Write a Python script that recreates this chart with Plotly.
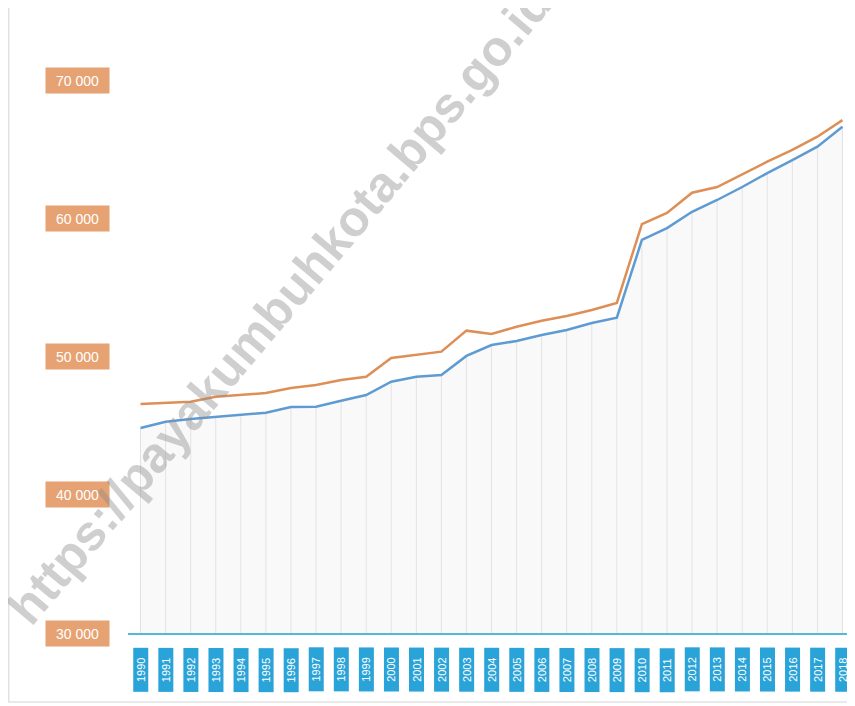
import plotly.graph_objects as go

# data
years = list(range(1990, 2019))
series_upper = [46560, 46660, 46730, 47090, 47220, 47360, 47720, 47940, 48300, 48540,
                49890, 50110, 50350, 51870, 51630, 52150, 52590, 52930, 53360, 53870,
                59580, 60380, 61850, 62260, 63200, 64090, 64940, 65900, 67100]
series_lower = [44830, 45280, 45480, 45620, 45770, 45930, 46350, 46370, 46800, 47210,
                48180, 48540, 48660, 50040, 50830, 51120, 51550, 51920, 52420, 52810,
                58430, 59290, 60470, 61320, 62260, 63270, 64210, 65180, 66620]
y_ticks = [30000, 40000, 50000, 60000, 70000]
y_tick_text = ["30 000", "40 000", "50 000", "60 000", "70 000"]
watermark = "https://payakumbuhkota.bps.go.id"

ORANGE = "#dd8f56"
BLUE = "#5e9bd3"
BOX_ORANGE = "#e6a272"
BOX_BLUE = "#2aa3d8"

fig = go.Figure()

# drop lines from each point down to the baseline
drop_x, drop_y = [], []
for yr, v in zip(years, series_lower):
    drop_x += [yr, yr, None]
    drop_y += [y_ticks[0], v, None]
fig.add_trace(go.Scatter(x=drop_x, y=drop_y, mode="lines",
                         line=dict(color="#e0e0e0", width=1), hoverinfo="skip"))

fig.add_trace(go.Scatter(x=years, y=series_lower, mode="lines",
                         line=dict(color=BLUE, width=2.5),
                         fill="tozeroy", fillcolor="rgba(235,235,235,0.3)"))
fig.add_trace(go.Scatter(x=years, y=series_upper, mode="lines",
                         line=dict(color=ORANGE, width=2.5)))

# page body adds 8px, so the figure is 8px smaller on each side
fig.update_layout(
    width=847, height=698,
    margin=dict(l=120, r=0, t=12, b=73),
    paper_bgcolor="white", plot_bgcolor="white",
    showlegend=False,
    font=dict(family="Liberation Sans"),
    xaxis=dict(range=[1989.5, 2018.5], showgrid=False, zeroline=False,
               showticklabels=False, showline=True, linecolor="#56b8d8", linewidth=2),
    yaxis=dict(range=[30000, 74340], showgrid=False, zeroline=False,
               showticklabels=False, tickvals=y_ticks),
)

annotations = []
for v, t in zip(y_ticks, y_tick_text):
    annotations.append(dict(xref="paper", yref="y", x=-0.0695, y=v, text=t,
                            xanchor="center", yanchor="middle",
                            showarrow=False, bgcolor=BOX_ORANGE, width=61, height=23,
                            font=dict(color="white", size=14, family="Liberation Sans Narrow, Liberation Sans")))
for yr in years:
    annotations.append(dict(xref="x", yref="paper", x=yr, y=-0.06, text=str(yr),
                            xanchor="center", yanchor="middle",
                            showarrow=False, textangle=-90, bgcolor=BOX_BLUE,
                            width=41, height=12, borderpad=1,
                            font=dict(color="white", size=11)))
annotations.append(dict(xref="paper", yref="paper", x=0.209, y=0.535, text=watermark,
                        xanchor="center", yanchor="middle",
                        showarrow=False, textangle=-50,
                        font=dict(color="rgba(140,140,140,0.42)", size=50,
                                  family="Liberation Sans", weight="bold")))
fig.update_layout(annotations=annotations)

fig.add_shape(type="rect", xref="paper", yref="paper", x0=-0.164, x1=1.01, y0=-0.1126, y1=1.03,
              line=dict(color="#e2e2e2", width=1.5), layer="below")

fig.write_html("out.html")
